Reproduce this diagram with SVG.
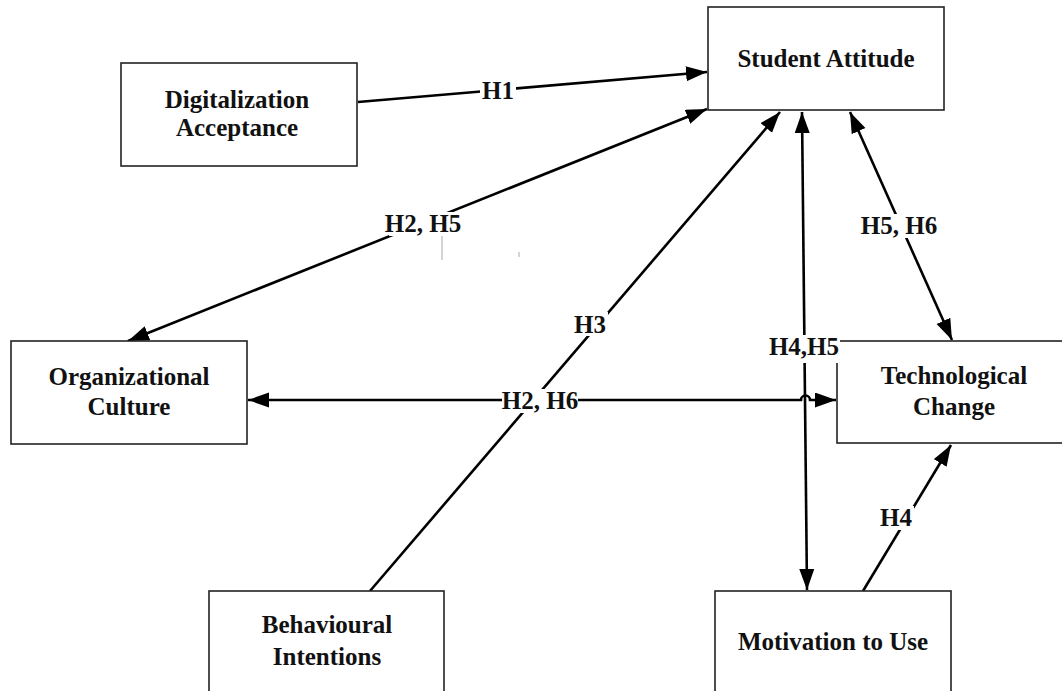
<svg xmlns="http://www.w3.org/2000/svg" width="1062" height="691" viewBox="0 0 1062 691">
<style>
.box{fill:#fff;stroke:#222;stroke-width:1.6}
.t{font-family:"Liberation Serif","Times New Roman",serif;font-weight:bold;font-size:25px;fill:#111;text-anchor:middle}
.c{fill:none;stroke:#000;stroke-width:2.6}
.bg{fill:#fff}
</style>
<defs>
<marker id="ah" markerUnits="userSpaceOnUse" markerWidth="22" markerHeight="16" refX="21" refY="7.5" orient="auto-start-reverse">
<path d="M0,0 L21,7.5 L0,15 z" fill="#000"/>
</marker>
</defs>
<rect width="1062" height="691" fill="#fff"/>
<g id="connectors">
<line class="c" x1="358" y1="102" x2="707" y2="72" marker-end="url(#ah)"/>
<line class="c" x1="128" y1="341" x2="707" y2="109" marker-start="url(#ah)" marker-end="url(#ah)"/>
<line class="c" x1="370" y1="591" x2="780" y2="112" marker-end="url(#ah)"/>
<line class="c" x1="802" y1="112" x2="807" y2="590" marker-start="url(#ah)" marker-end="url(#ah)"/>
<line class="c" x1="850" y1="112" x2="952" y2="340" marker-start="url(#ah)" marker-end="url(#ah)"/>
<path class="c" d="M248,400 L801,400 A4.5,4.5 0 0 1 810,400 L836,400" marker-start="url(#ah)" marker-end="url(#ah)"/>
<line class="c" x1="863" y1="591" x2="951" y2="445" marker-end="url(#ah)"/>
<line x1="442" y1="222" x2="442" y2="260" stroke="#aaa" stroke-width="1"/>
<line x1="519" y1="252" x2="519" y2="257" stroke="#aaa" stroke-width="1"/>
</g>
<g id="node-student-attitude"><rect class="box" x="708" y="7" width="236" height="103"/><text class="t" x="826" y="67">Student Attitude</text></g>
<g id="node-digitalization"><rect class="box" x="121" y="63" width="236" height="103"/><text class="t" x="237" y="108">Digitalization</text><text class="t" x="237" y="136">Acceptance</text></g>
<g id="node-org-culture"><rect class="box" x="11" y="341" width="236" height="103"/><text class="t" x="129" y="385">Organizational</text><text class="t" x="129" y="415">Culture</text></g>
<g id="node-tech-change"><rect class="box" x="837" y="341" width="236" height="102"/><text class="t" x="954" y="384">Technological</text><text class="t" x="954" y="415">Change</text></g>
<g id="node-behavioural"><rect class="box" x="209" y="591" width="235" height="110"/><text class="t" x="327" y="633">Behavioural</text><text class="t" x="327" y="665">Intentions</text></g>
<g id="node-motivation"><rect class="box" x="715" y="591" width="236" height="110"/><text class="t" x="833" y="650">Motivation to Use</text></g>
<g id="labels">
<rect class="bg" x="480" y="80" width="36" height="22"/><text class="t" x="498" y="99">H1</text>
<rect class="bg" x="389" y="212" width="70" height="24"/><text class="t" x="423" y="232">H2, H5</text>
<rect class="bg" x="572" y="312" width="36" height="24"/><text class="t" x="590" y="333">H3</text>
<rect class="bg" x="767" y="335" width="73" height="28"/><text class="t" x="804" y="355">H4,H5</text>
<rect class="bg" x="502" y="389" width="76" height="24"/><text class="t" x="540" y="409">H2, H6</text>
<rect class="bg" x="863" y="214" width="72" height="24"/><text class="t" x="899" y="234">H5, H6</text>
<rect class="bg" x="878" y="506" width="36" height="24"/><text class="t" x="896" y="526">H4</text>
</g>
</svg>
